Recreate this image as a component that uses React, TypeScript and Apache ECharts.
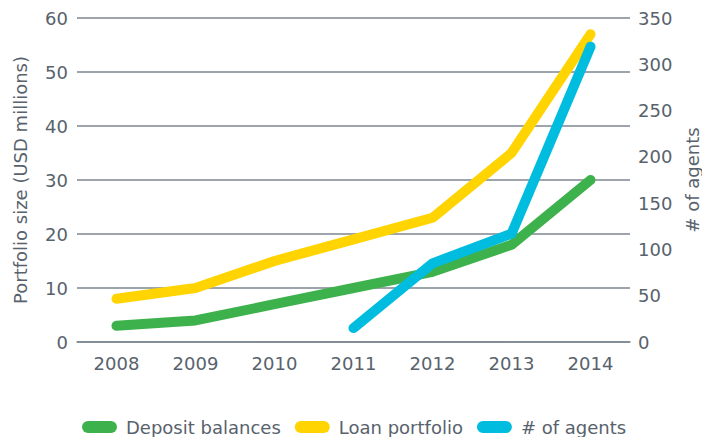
import React, { useEffect, useRef } from "react";
import * as echarts from "echarts";

const years = ["2008", "2009", "2010", "2011", "2012", "2013", "2014"];
const depositBalances = [3, 4, 7, 10, 13, 18, 30];
const loanPortfolio = [8, 10, 15, 19, 23, 35, 57];
const agents: (number | string)[] = ["-", "-", "-", 15, 85, 117, 319];

const TEXT = "#58626d";
const GRID = "#7c8691";
const FONT = "DejaVu Sans";
const FS = 18;
const pill = "path://M6,0 H29 A6,6 0 0 1 29,12 H6 A6,6 0 0 1 6,0 Z";

export default function App() {
  const ref = useRef<HTMLDivElement>(null);
  useEffect(() => {
    if (!ref.current) return;
    const chart = echarts.init(ref.current, null, { renderer: "svg" });
    const lineCommon = {
      type: "line",
      symbol: "none",
      smooth: false,
      connectNulls: false,
    };
    chart.setOption({
      animation: false,
      textStyle: { fontFamily: FONT },
      grid: { left: 77, right: 72, top: 18, bottom: 95, containLabel: false, outerBoundsMode: "none" },
      legend: {
        bottom: -4,
        left: 77,
        itemWidth: 35,
        itemHeight: 12,
        itemGap: 14,
        textStyle: { color: TEXT, fontSize: FS, fontFamily: FONT, padding: [0, 0, 0, 4] },
        data: [
          { name: "Deposit balances", icon: pill },
          { name: "Loan portfolio", icon: pill },
          { name: "# of agents", icon: pill },
        ],
      },
      xAxis: {
        type: "category",
        data: years,
        boundaryGap: true,
        axisLine: { lineStyle: { color: GRID, width: 1.5 } },
        axisTick: { show: false },
        axisLabel: { color: TEXT, fontSize: FS, margin: 12, fontFamily: FONT },
      },
      yAxis: [
        {
          type: "value",
          min: 0,
          max: 60,
          interval: 10,
          name: "Portfolio size (USD millions)",
          nameLocation: "middle",
          nameRotate: 90,
          nameGap: 48,
          nameTextStyle: { color: TEXT, fontSize: FS, fontFamily: FONT },
          axisLine: { show: false },
          axisTick: { show: false },
          axisLabel: { color: TEXT, fontSize: FS, margin: 9, fontFamily: FONT },
          splitLine: { lineStyle: { color: GRID, width: 1.5 } },
        },
        {
          type: "value",
          min: 0,
          max: 350,
          interval: 50,
          position: "right",
          name: "# of agents",
          nameLocation: "middle",
          nameRotate: 90,
          nameGap: 52,
          nameTextStyle: { color: TEXT, fontSize: FS, fontFamily: FONT },
          axisLine: { show: false },
          axisTick: { show: false },
          axisLabel: { color: TEXT, fontSize: FS, margin: 8, fontFamily: FONT },
          splitLine: { show: false },
        },
      ],
      series: [
        {
          ...lineCommon,
          name: "Deposit balances",
          yAxisIndex: 0,
          data: depositBalances,
          itemStyle: { color: "#3db14b" },
          lineStyle: { color: "#3db14b", width: 10, cap: "round", join: "round" },
          z: 3,
        },
        {
          ...lineCommon,
          name: "Loan portfolio",
          yAxisIndex: 0,
          data: loanPortfolio,
          itemStyle: { color: "#ffd400" },
          lineStyle: { color: "#ffd400", width: 10, cap: "round", join: "round" },
          z: 2,
        },
        {
          ...lineCommon,
          name: "# of agents",
          yAxisIndex: 1,
          data: agents,
          itemStyle: { color: "#00bde0" },
          lineStyle: { color: "#00bde0", width: 10, cap: "round", join: "round" },
          z: 4,
        },
      ],
    });
    return () => chart.dispose();
  }, []);
  return <div ref={ref} style={{ width: 702, height: 437, position: "absolute", left: 0, top: 0 }} />;
}
